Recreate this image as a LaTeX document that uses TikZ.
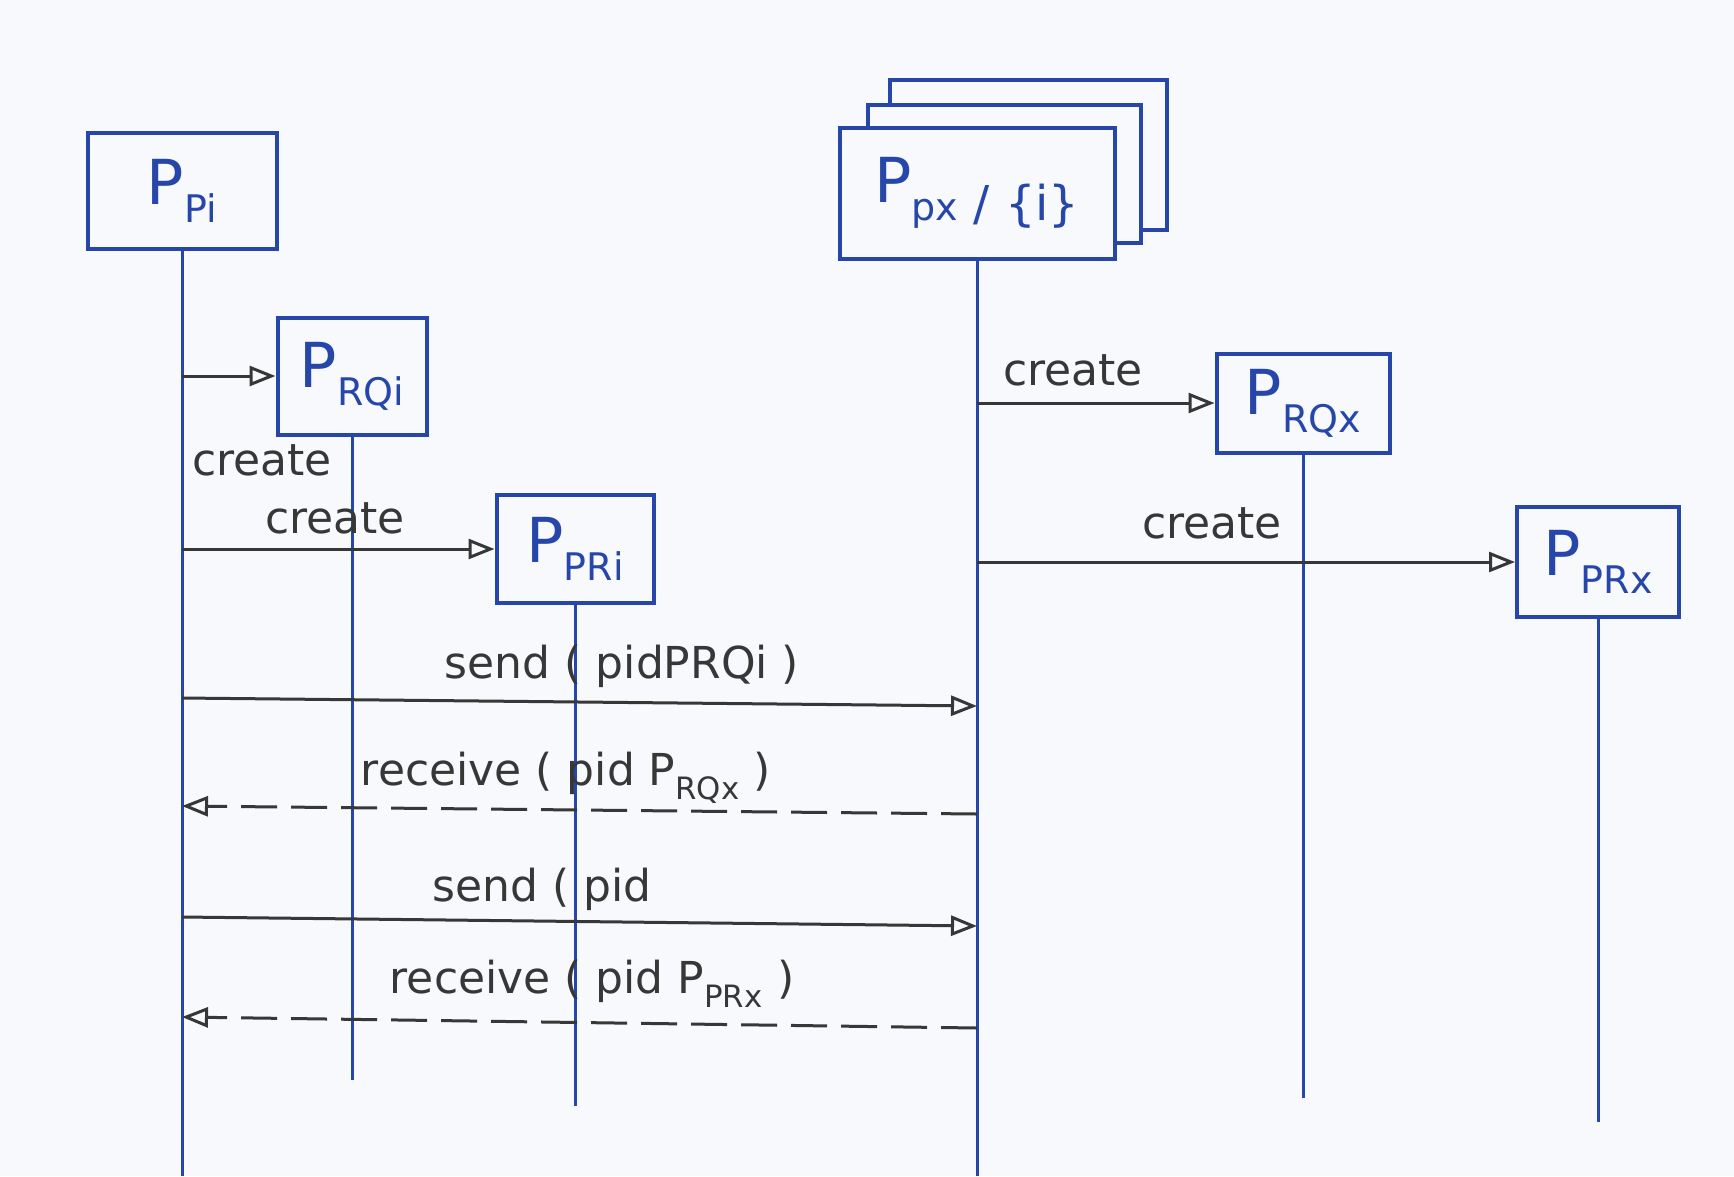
\documentclass[tikz,border=0pt]{standalone}
\usepackage{fontspec}
\setmainfont{DejaVu Sans}
\usetikzlibrary{arrows.meta}
\definecolor{paper}{RGB}{247,249,252}
\definecolor{ink}{RGB}{38,70,170}
\definecolor{pencil}{RGB}{55,55,55}
\tikzset{
 box/.style={draw=ink, line width=4pt, fill=paper, inner sep=0pt, text=ink},
 life/.style={draw=ink, line width=3pt},
 msg/.style={draw=pencil, line width=3pt, -{Triangle[open, length=26pt, width=20pt, line width=3pt]}},
 reply/.style={msg, dash pattern=on 36pt off 14pt},
 lab/.style={text=pencil, font=\fontsize{44}{44}\selectfont, inner sep=0pt},
}
\newcommand{\proc}[1]{{\fontsize{62}{62}\selectfont P}\raisebox{-18pt}{\fontsize{38}{38}\selectfont #1}}
\begin{document}
\begin{tikzpicture}[x=1pt,y=-1pt]
\fill[paper] (0,0) rectangle (1734,1176);
\useasboundingbox (0,0) rectangle (1734,1176);
% process boxes
\node[box, minimum width=189pt, minimum height=116pt] (Ppi) at (182,191) {\proc{Pi}};
\node[box, minimum width=149pt, minimum height=117pt] (PRQi) at (352,376) {\proc{RQi}};
\node[box, minimum width=157pt, minimum height=108pt] (PPRi) at (575,549) {\proc{PRi}};
\node[box, minimum width=277pt, minimum height=150pt] (Ppx3) at (1028,155) {};
\node[box, minimum width=273pt, minimum height=138pt] (Ppx2) at (1004,174) {};
\node[box, minimum width=275pt, minimum height=131pt] (Ppx) at (977,193) {\proc{px{\fontsize{48}{48}\selectfont\ /\ \{i\}}}};
\node[box, minimum width=173pt, minimum height=99pt] (PRQx) at (1303,403) {\proc{RQx}};
\node[box, minimum width=162pt, minimum height=110pt] (PPRx) at (1598,562) {\proc{PRx}};
% lifeline ends
\coordinate (PpiEnd) at (Ppi.south |- 0,1176);
\coordinate (PRQiEnd) at (PRQi.south |- 0,1080);
\coordinate (PPRiEnd) at (PPRi.south |- 0,1106);
\coordinate (PpxEnd) at (Ppx.south |- 0,1176);
\coordinate (PRQxEnd) at (PRQx.south |- 0,1098);
\coordinate (PPRxEnd) at (PPRx.south |- 0,1122);
\draw[life] (Ppi.south) -- (PpiEnd);
\draw[life] (PRQi.south) -- (PRQiEnd);
\draw[life] (PPRi.south) -- (PPRiEnd);
\draw[life] (Ppx.south) -- (PpxEnd);
\draw[life] (PRQx.south) -- (PRQxEnd);
\draw[life] (PPRx.south) -- (PPRxEnd);
% create messages
\draw[msg] (Ppi.south |- PRQi.west) -- (PRQi.west);
\node[lab] (c1) at (262,460) {create};
\draw[msg] (Ppi.south |- PPRi.west) -- (PPRi.west);
\node[lab] (c2) at (335,518) {create};
\draw[msg] (Ppx.south |- PRQx.west) -- (PRQx.west);
\node[lab] (c3) at (1073,370) {create};
\draw[msg] (Ppx.south |- PPRx.west) -- (PPRx.west);
\node[lab] (c4) at (1212,523) {create};
% send / receive
\coordinate (s1a) at (Ppi.south |- 0,698);
\coordinate (s1b) at (Ppx.south |- 0,706);
\draw[msg] (s1a) -- (s1b);
\node[lab] (l1) at (622,666) {send ( pidPRQi )};
\coordinate (r1a) at (Ppx.south |- 0,814);
\coordinate (r1b) at (Ppi.south |- 0,806);
\draw[reply] (r1a) -- (r1b);
\node[lab] (l2) at (566,778) {receive ( pid P\textsubscript{RQx} )};
\coordinate (s2a) at (Ppi.south |- 0,917);
\coordinate (s2b) at (Ppx.south |- 0,926);
\draw[msg] (s2a) -- (s2b);
\node[lab] (l3) at (542,889) {send ( pid};
\coordinate (r2a) at (Ppx.south |- 0,1028);
\coordinate (r2b) at (Ppi.south |- 0,1017);
\draw[reply] (r2a) -- (r2b);
\node[lab] (l4) at (592,984) {receive ( pid P\textsubscript{PRx} )};
\end{tikzpicture}
\end{document}
